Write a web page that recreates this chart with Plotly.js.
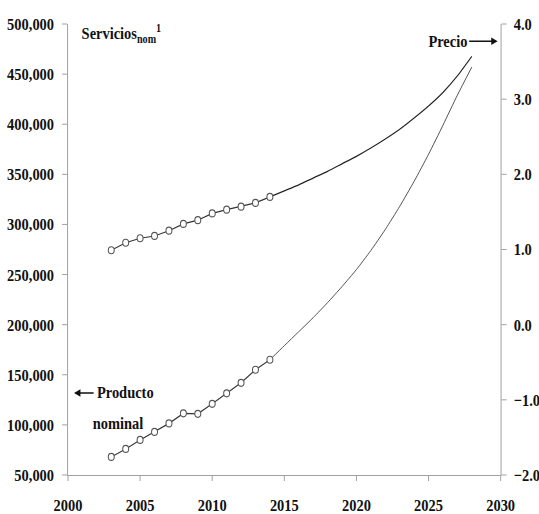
<!DOCTYPE html>
<html>
<head>
<meta charset="utf-8">
<script src="https://cdn.plot.ly/plotly-3.0.1.min.js"></script>
<style>
html,body{margin:0;padding:0;background:#fff;overflow:hidden;}
#chart{width:634px;height:514px;transform:scaleX(0.85);transform-origin:0 0;}
</style>
</head>
<body>
<div id="chart"></div>
<script>
// Historical data (markers)
const yearsHist = [2003,2004,2005,2006,2007,2008,2009,2010,2011,2012,2013,2014];
const precioHist = [0.99,1.09,1.15,1.18,1.25,1.34,1.39,1.48,1.53,1.57,1.62,1.70];
const productoHist = [68000,76000,85000,93000,101500,111500,111000,121000,131500,142000,155000,165000];
// Projection (lines only)
const yearsProj = [2014,2015,2016,2017,2018,2019,2020,2021,2022,2023,2024,2025,2026,2027,2028];
const precioProj = [1.70,1.78,1.86,1.95,2.04,2.14,2.24,2.35,2.47,2.60,2.75,2.91,3.09,3.31,3.57];
const productoProj = [165000,179000,193000,207000,222000,238000,255000,274000,295000,318000,343000,370000,399000,429000,457000];
// Labels
const titleText = 'Servicios<sub>nom</sub><sup>1</sup>';
const precioLabel = 'Precio';
const productoLabel1 = 'Producto';
const productoLabel2 = 'nominal';

const FONT = 'Liberation Serif, Times New Roman, serif';
const marker = {symbol:'circle', size:7, color:'#ffffff', line:{color:'#555555', width:1.2}};

const traces = [
  {x: yearsProj, y: precioProj, yaxis:'y2', mode:'lines', line:{color:'#222', width:1.3, shape:'spline', smoothing:0.6}, hoverinfo:'skip'},
  {x: yearsProj, y: productoProj, yaxis:'y', mode:'lines', line:{color:'#444', width:1, shape:'spline', smoothing:0.6}, hoverinfo:'skip'},
  {x: yearsHist, y: precioHist, yaxis:'y2', mode:'lines+markers', line:{color:'#333', width:1.2}, marker: marker},
  {x: yearsHist, y: productoHist, yaxis:'y', mode:'lines+markers', line:{color:'#333', width:1.2}, marker: marker}
];

const tickFont = {family: FONT, size: 17, color:'#111', weight:'bold'};
const annFont = {family: FONT, size: 17, color:'#111', weight:'bold'};

const layout = {
  width: 634, height: 514,
  margin: {l: 80, r: 45, t: 24, b: 39},
  paper_bgcolor: '#fff', plot_bgcolor: '#fff',
  showlegend: false,
  xaxis: {
    range: [2000, 2030], dtick: 5, tick0: 2000,
    showgrid: false, zeroline: false,
    showline: true, linecolor: '#999', linewidth: 1,
    ticks: 'outside', ticklen: 5, tickcolor: '#999',
    tickfont: tickFont, ticklabelstandoff: 10
  },
  yaxis: {
    range: [50000, 500000], dtick: 50000, tick0: 50000,
    tickformat: ',d',
    showgrid: false, zeroline: false,
    showline: true, linecolor: '#999', linewidth: 1,
    ticks: 'outside', ticklen: 6, tickcolor: '#999',
    tickfont: tickFont, ticklabelstandoff: 6
  },
  yaxis2: {
    overlaying: 'y', side: 'right',
    range: [-2, 4], dtick: 1, tick0: -2,
    tickformat: '.1f',
    showgrid: false, zeroline: false,
    showline: true, linecolor: '#999', linewidth: 1,
    ticks: 'outside', ticklen: 6, tickcolor: '#999',
    tickfont: tickFont, ticklabelstandoff: 5
  },
  annotations: [
    {xref:'paper', yref:'paper', x:0.028, y:1.012, xanchor:'left', yanchor:'top',
     text: titleText, showarrow:false, font: annFont},
    {xref:'paper', yref:'paper', x:0.993, y:0.962, text: precioLabel,
     showarrow:true, ax:-58, ay:0, arrowhead:2, arrowsize:1, arrowwidth:1.5, arrowcolor:'#111',
     font: annFont, standoff:0, startstandoff:0},
    {xref:'paper', yref:'paper', x:0.014, y:0.182, text: productoLabel1,
     showarrow:true, ax:60, ay:0, arrowhead:2, arrowsize:1, arrowwidth:1.5, arrowcolor:'#111',
     font: annFont, standoff:0, startstandoff:2},
    {xref:'paper', yref:'paper', x:0.053, y:0.115, xanchor:'left', yanchor:'middle',
     text: productoLabel2, showarrow:false, font: annFont}
  ]
};

Plotly.newPlot('chart', traces, layout, {displayModeBar:false, staticPlot:true});
</script>
</body>
</html>
